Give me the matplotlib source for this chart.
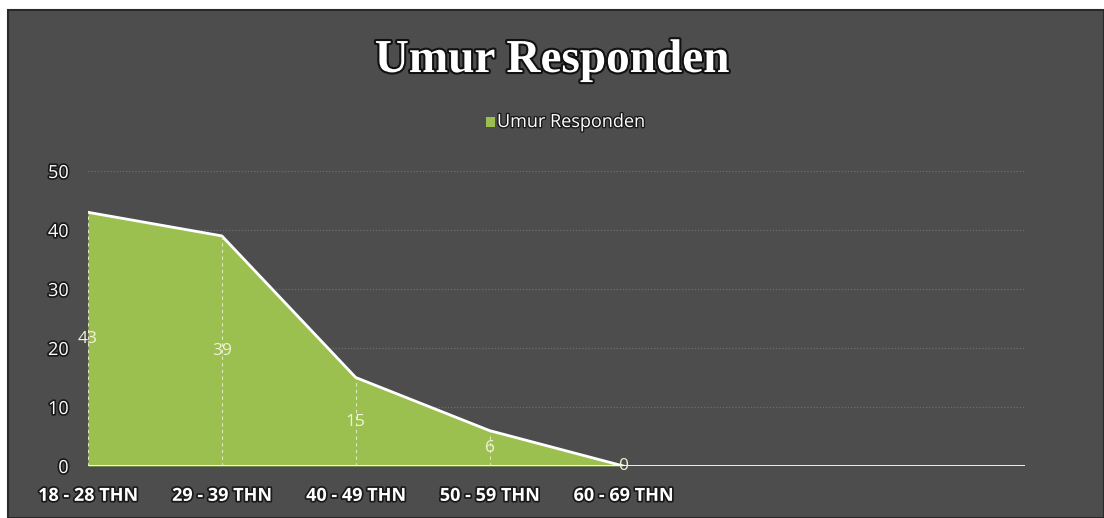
import matplotlib
matplotlib.use("Agg")
import matplotlib.pyplot as plt
import matplotlib.patheffects as pe
from matplotlib.patches import Rectangle

# data
categories = ["18 - 28 THN", "29 - 39 THN", "40 - 49 THN", "50 - 59 THN", "60 - 69 THN"]
values = [43, 39, 15, 6, 0]
n_slots = 8  # excel axis had 3 empty category slots on the right
series_name = "Umur Responden"
title = "Umur Responden"

BG = "#4d4d4d"
GREEN = "#9cc04f"
outline = [pe.withStroke(linewidth=2.5, foreground="#1a1a1a")]

fig = plt.figure(figsize=(11.04, 5.18), dpi=100)
fig.patch.set_facecolor("white")
# dark chart area (the scan has a white strip at top and left)
fig.patches.append(Rectangle((8 / 1104, 0), 1 - 8 / 1104, 1 - 10 / 518,
                             transform=fig.transFigure, facecolor=BG,
                             edgecolor="#2a2a2a", lw=1.5, zorder=-10))

ax = fig.add_axes([88 / 1104, 52 / 518, (1025 - 88) / 1104, (466 - 171) / 518])
ax.set_facecolor("none")

x = list(range(len(categories)))
ax.fill_between(x, values, 0, color=GREEN, lw=0, zorder=2)
ax.plot(x, values, color="white", lw=2, zorder=3)
ax.axhline(0, color="white", lw=2, zorder=3)

# drop lines + labels
for xi, v in zip(x, values):
    ax.plot([xi, xi], [0, v], color="#dfe9bf", lw=0.8, ls=(0, (3, 3)), zorder=3)
    ax.text(xi, v / 2, str(v), color="#eef2d8", fontsize=12.5, ha="center", va="center",
            family="Open Sans", zorder=4)

ax.set_xlim(0, n_slots - 1)
ax.set_ylim(0, 50)
ax.set_yticks(range(0, 51, 10))
ax.yaxis.grid(True, color="#6e6e6e", lw=0.9, ls=(0, (1, 1.5)), zorder=1)
ax.set_axisbelow(True)
ax.set_xticks(x)
ax.set_xticklabels(categories)
ax.tick_params(length=0)
ax.tick_params(axis="x", pad=15)
ax.tick_params(axis="y", pad=14)
for lab in ax.get_xticklabels():
    lab.set(color="white", fontsize=13, family="Open Sans", fontweight="bold", path_effects=outline)
for lab in ax.get_yticklabels():
    lab.set(color="white", fontsize=13, family="Open Sans", path_effects=outline)
for s in ax.spines.values():
    s.set_visible(False)

fig.text(0.5, 1 - 61 / 518, title, ha="center", va="center", color="white",
         fontsize=34, fontweight="bold", family="Liberation Serif",
         path_effects=[pe.withStroke(linewidth=3, foreground="#111111")])

# legend
fig.patches.append(Rectangle((486 / 1104, 1 - 127 / 518), 9 / 1104, 10 / 518,
                             transform=fig.transFigure, facecolor=GREEN, edgecolor="none", zorder=5))
fig.text(497 / 1104, 1 - 122 / 518, series_name, ha="left", va="center", color="white",
         fontsize=13, family="Open Sans",
         path_effects=[pe.withStroke(linewidth=2, foreground="#1a1a1a")])

fig.savefig("out.png", dpi=100, facecolor=fig.get_facecolor())
